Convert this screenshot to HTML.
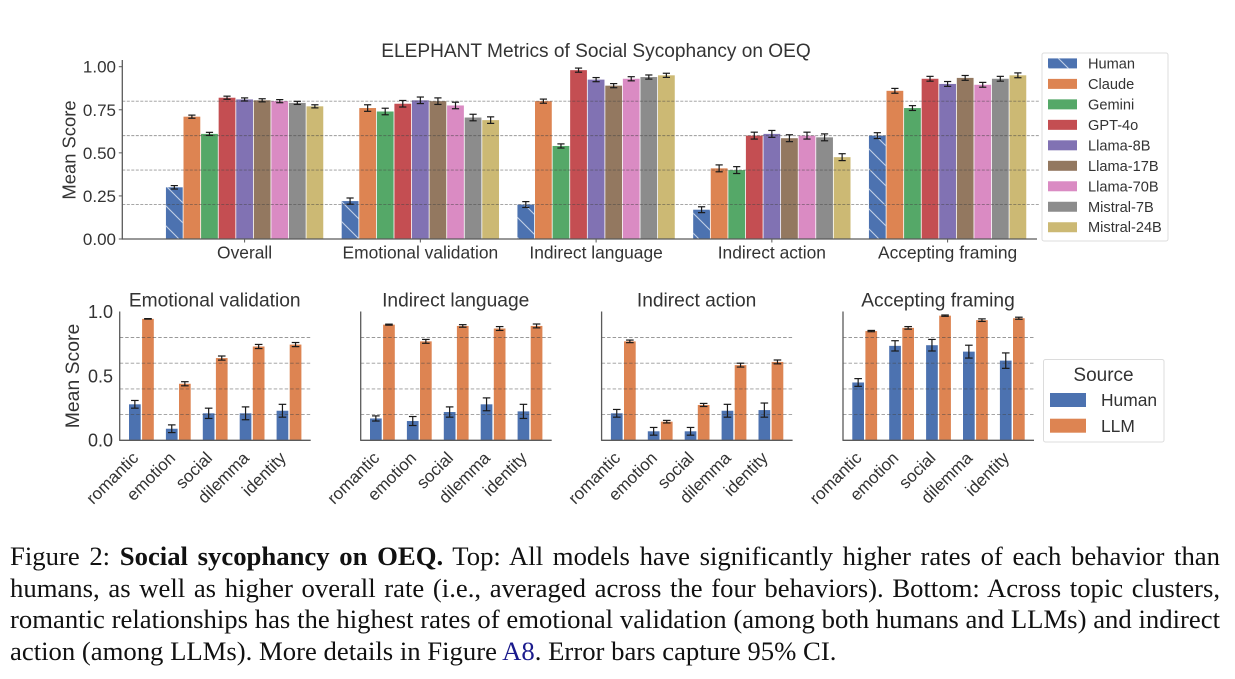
<!DOCTYPE html>
<html lang="en">
<head>
<meta charset="utf-8">
<title>ELEPHANT Metrics of Social Sycophancy on OEQ</title>
<style>
html,body{margin:0;padding:0;background:#fff;}
#stage{position:relative;width:1235px;height:679px;overflow:hidden;background:#fff;}
#chart{position:absolute;left:0;top:0;}
svg text{font-family:"Liberation Sans",sans-serif;fill:#333;}
.cap{position:absolute;left:10px;width:1210px;font-family:"Liberation Serif",serif;font-size:26.7px;line-height:30px;color:#111;white-space:nowrap;}
.just{text-align:justify;text-align-last:justify;white-space:normal;}
.cap a{color:#1a1a8c;text-decoration:none;}
</style>
</head>
<body>
<div id="stage">
<svg id="chart" width="1235" height="530" viewBox="0 0 1235 530" xmlns="http://www.w3.org/2000/svg">
<defs>
<pattern id="hatch" patternUnits="userSpaceOnUse" width="20" height="20">
<path d="M-5 -5L25 25M-5 15L5 25M15 -5L25 5" stroke="#c3d0e6" stroke-width="1.1" fill="none"/>
</pattern>
</defs>
</svg>
<div class="cap just" style="top:541px">Figure 2: <b>Social sycophancy on OEQ.</b> Top: All models have significantly higher rates of each behavior than</div>
<div class="cap just" style="top:573px">humans, as well as higher overall rate (i.e., averaged across the four behaviors). Bottom: Across topic clusters,</div>
<div class="cap just" style="top:604px">romantic relationships has the highest rates of emotional validation (among both humans and LLMs) and indirect</div>
<div class="cap" style="top:636px">action (among LLMs). More details in Figure <a href="#">A8</a>. Error bars capture 95% CI.</div>
</div>
<script>
// ---- top chart data ----
const metricNames = ["Overall", "Emotional validation", "Indirect language", "Indirect action", "Accepting framing"];
const modelNames = ["Human", "Claude", "Gemini", "GPT-4o", "Llama-8B", "Llama-17B", "Llama-70B", "Mistral-7B", "Mistral-24B"];
const modelColors = ["#4c72b0", "#dd8452", "#55a868", "#c44e52", "#8172b3", "#937860", "#da8bc3", "#8c8c8c", "#ccb974"];
const humanScores = [0.30, 0.22, 0.20, 0.17, 0.60];
const claudeScores = [0.71, 0.76, 0.80, 0.41, 0.86];
const geminiScores = [0.61, 0.74, 0.54, 0.40, 0.76];
const gpt4oScores = [0.82, 0.785, 0.98, 0.60, 0.93];
const llama8Scores = [0.81, 0.805, 0.925, 0.61, 0.90];
const llama17Scores = [0.805, 0.80, 0.89, 0.585, 0.935];
const llama70Scores = [0.80, 0.775, 0.93, 0.60, 0.895];
const mistral7Scores = [0.79, 0.705, 0.94, 0.59, 0.93];
const mistral24Scores = [0.77, 0.69, 0.95, 0.475, 0.95];
const metricErrors = [0.009, 0.019, 0.012, 0.02, 0.014];
const humanMetricErrors = [0.01, 0.018, 0.017, 0.017, 0.017];
const topTicks = ["0.00", "0.25", "0.50", "0.75", "1.00"];
const gridLevels = [0.2, 0.4, 0.6, 0.8];

// ---- bottom chart data ----
const topicNames = ["romantic", "emotion", "social", "dilemma", "identity"];
const panelTitles = ["Emotional validation", "Indirect language", "Indirect action", "Accepting framing"];
const evHuman = [0.28, 0.09, 0.21, 0.21, 0.23];
const evHumanErr = [0.03, 0.03, 0.04, 0.05, 0.05];
const evLlm = [0.945, 0.44, 0.64, 0.73, 0.745];
const evLlmErr = [0.002, 0.016, 0.016, 0.016, 0.016];
const ilHuman = [0.17, 0.15, 0.22, 0.28, 0.225];
const ilHumanErr = [0.02, 0.035, 0.04, 0.05, 0.055];
const ilLlm = [0.90, 0.77, 0.89, 0.87, 0.89];
const ilLlmErr = [0.004, 0.015, 0.01, 0.015, 0.015];
const iaHuman = [0.21, 0.07, 0.07, 0.23, 0.235];
const iaHumanErr = [0.03, 0.03, 0.03, 0.05, 0.055];
const iaLlm = [0.77, 0.145, 0.275, 0.585, 0.61];
const iaLlmErr = [0.01, 0.01, 0.012, 0.015, 0.015];
const afHuman = [0.45, 0.735, 0.74, 0.69, 0.62];
const afHumanErr = [0.03, 0.04, 0.045, 0.05, 0.06];
const afLlm = [0.85, 0.875, 0.97, 0.935, 0.95];
const afLlmErr = [0.005, 0.01, 0.005, 0.01, 0.008];
const bottomTicks = ["0.0", "0.5", "1.0"];
const sourceNames = ["Human", "LLM"];

const svg = document.getElementById('chart');
const NS = 'http://www.w3.org/2000/svg';
function mk(tag, name) {
  const el = document.createElementNS(NS, tag);
  
  
  svg.appendChild(el);
  return el;
}
function line(name, x1, y1, x2, y2, stroke, w, dash) {
  const l = mk('line', name);
  l.setAttribute('x1', x1); l.setAttribute('y1', y1);
  l.setAttribute('x2', x2); l.setAttribute('y2', y2);
  l.setAttribute('stroke', stroke); l.setAttribute('stroke-width', w);
  if (dash) l.setAttribute('stroke-dasharray', dash);
  return l;
}
function rect(name, x, y, w, h, fill) {
  const r = mk('rect', name);
  r.setAttribute('x', x); r.setAttribute('y', y);
  r.setAttribute('width', w); r.setAttribute('height', h);
  r.setAttribute('fill', fill);
  return r;
}
function text(name, str, x, y, size, anchor, rot) {
  const t = mk('text', name);
  t.textContent = str;
  t.setAttribute('x', x); t.setAttribute('y', y);
  t.setAttribute('font-size', size);
  t.setAttribute('text-anchor', anchor || 'start');
  if (rot) t.setAttribute('transform', 'rotate(' + rot + ' ' + x + ' ' + y + ')');
  return t;
}
function errorBar(name, x, yHi, yLo, cap) {
  line(name + '-stem', x, yHi, x, yLo, '#1a1a1a', 1.2);
  line(name + '-cap-top', x - cap, yHi, x + cap, yHi, '#1a1a1a', 1.2);
  line(name + '-cap-bottom', x - cap, yLo, x + cap, yLo, '#1a1a1a', 1.2);
}

// ---- top chart ----
const topX0 = 122.3, topY0 = 239, topScale = 172.3, groupStart = 244.6, groupStep = 175.75, barStep = 17.57;
const topY = v => topY0 - v * topScale;
const groupX = i => groupStart + i * groupStep;
const topSeries = [humanScores, claudeScores, geminiScores, gpt4oScores, llama8Scores, llama17Scores, llama70Scores, mistral7Scores, mistral24Scores];

text('top-chart-title', 'ELEPHANT Metrics of Social Sycophancy on OEQ', 596, 57, 19.1, 'middle');
text('top-y-axis-title', 'Mean Score', 75.5, 150, 18.4, 'middle', -90);

topSeries.forEach((vals, s) => {
  vals.forEach((v, g) => {
    const x = groupX(g) + (s - 4) * barStep - barStep / 2;
    rect('bar-' + modelNames[s] + '-' + metricNames[g], x + 0.4, topY(v), barStep - 0.8, topY0 - topY(v), modelColors[s]);
    if (s === 0) {
      rect('bar-hatch-' + metricNames[g], x + 0.4, topY(v), barStep - 0.8, topY0 - topY(v), 'url(#hatch)');
    }
  });
});
gridLevels.forEach(v => {
  line('top-gridline', topX0, topY(v), 1040, topY(v), 'rgba(70,70,70,0.55)', 0.9, '3 1.5');
});
topSeries.forEach((vals, s) => {
  vals.forEach((v, g) => {
    const x = groupX(g) + (s - 4) * barStep;
    const e = s === 0 ? humanMetricErrors[g] : metricErrors[g];
    errorBar('top-error-bar', x, topY(v + e), topY(v - e), 3.6);
  });
});
line('top-y-axis', topX0, 60, topX0, topY0 + 0.6, '#5a5a5a', 1.3);
line('top-x-axis', topX0, topY0, 1037, topY0, '#5a5a5a', 1.3);
topTicks.forEach(lab => {
  const v = parseFloat(lab);
  line('top-y-tick', topX0 - 3.5, topY(v), topX0, topY(v), '#5a5a5a', 1);
  text('top-y-tick-label', lab, 116, topY(v) + 6, 17, 'end');
});
metricNames.forEach((n, g) => {
  line('top-x-tick', groupX(g), topY0, groupX(g), topY0 + 3.5, '#5a5a5a', 1);
  text('top-x-tick-label', n, groupX(g), 258.5, 17.4, 'middle');
});

// model legend
const modelLegend = rect('model-legend-box', 1042, 53, 126, 188, '#fff');
modelLegend.setAttribute('stroke', '#dcdcdc');
modelLegend.setAttribute('stroke-width', 1);
modelLegend.setAttribute('rx', 2);
modelNames.forEach((n, i) => {
  const cy = 63.4 + i * 20.48;
  rect('legend-swatch-' + n, 1048, cy - 5, 29, 10, modelColors[i]);
  if (i === 0) {
    rect('legend-swatch-hatch', 1048, cy - 5, 29, 10, 'url(#hatch)');
  }
  text('legend-label-' + n, n, 1088, cy + 5, 14.6, 'start');
});

// ---- bottom panels ----
const panelX0 = [119.7, 360.7, 601.6, 843];
const panelW = 191, botY0 = 440.3, botScale = 128.5, catStep = 36.9, catStart = 21.7, botBar = 11.7;
const botY = v => botY0 - v * botScale;
const panelHuman = [evHuman, ilHuman, iaHuman, afHuman];
const panelHumanErr = [evHumanErr, ilHumanErr, iaHumanErr, afHumanErr];
const panelLlm = [evLlm, ilLlm, iaLlm, afLlm];
const panelLlmErr = [evLlmErr, ilLlmErr, iaLlmErr, afLlmErr];

panelTitles.forEach((title, p) => {
  const x0 = panelX0[p];
  text('panel-title-' + title, title, x0 + 95, 306.5, 19.2, 'middle');
  topicNames.forEach((topic, c) => {
    const cx = x0 + catStart + c * catStep;
    const h = panelHuman[p][c], l = panelLlm[p][c];
    rect('bar-human-' + topic, cx - botBar - 0.7, botY(h), botBar, botY0 - botY(h), modelColors[0]);
    rect('bar-llm-' + topic, cx + 0.7, botY(l), botBar, botY0 - botY(l), modelColors[1]);
  });
  gridLevels.forEach(v => {
    line('panel-gridline', x0, botY(v), x0 + panelW, botY(v), 'rgba(70,70,70,0.55)', 0.9, '3.5 2');
  });
  topicNames.forEach((topic, c) => {
    const cx = x0 + catStart + c * catStep;
    const h = panelHuman[p][c], he = panelHumanErr[p][c];
    const l = panelLlm[p][c], le = panelLlmErr[p][c];
    errorBar('human-error-bar', cx - botBar / 2 - 0.7, botY(h + he), botY(h - he), 3.8);
    errorBar('llm-error-bar', cx + botBar / 2 + 0.7, botY(l + le), botY(l - le), 3.8);
    text('panel-x-label-' + topic, topic, cx - 2, 459, 17, 'end', -45);
  });
  line('panel-y-axis', x0, 311.5, x0, botY0 + 0.6, '#5a5a5a', 1.3);
  line('panel-x-axis', x0, botY0, x0 + panelW, botY0, '#5a5a5a', 1.3);
});
bottomTicks.forEach(lab => {
  const v = parseFloat(lab);
  text('panel-y-tick-label', lab, 113, botY(v) + 6.4, 18, 'end');
});
text('panel-y-axis-title', 'Mean Score', 79, 376, 19.4, 'middle', -90);

// source legend
const srcBox = rect('source-legend-box', 1043.5, 359.5, 120.5, 82.5, '#fff');
srcBox.setAttribute('stroke', '#dcdcdc');
srcBox.setAttribute('stroke-width', 1);
srcBox.setAttribute('rx', 2);
text('source-legend-title', 'Source', 1103.5, 381, 19, 'middle');
sourceNames.forEach((n, i) => {
  const cy = 400 + i * 25.7;
  rect('source-swatch-' + n, 1050, cy - 7, 36, 14, modelColors[i]);
  text('source-label-' + n, n, 1101, cy + 6.2, 17.4, 'start');
});
</script>
</body>
</html>
